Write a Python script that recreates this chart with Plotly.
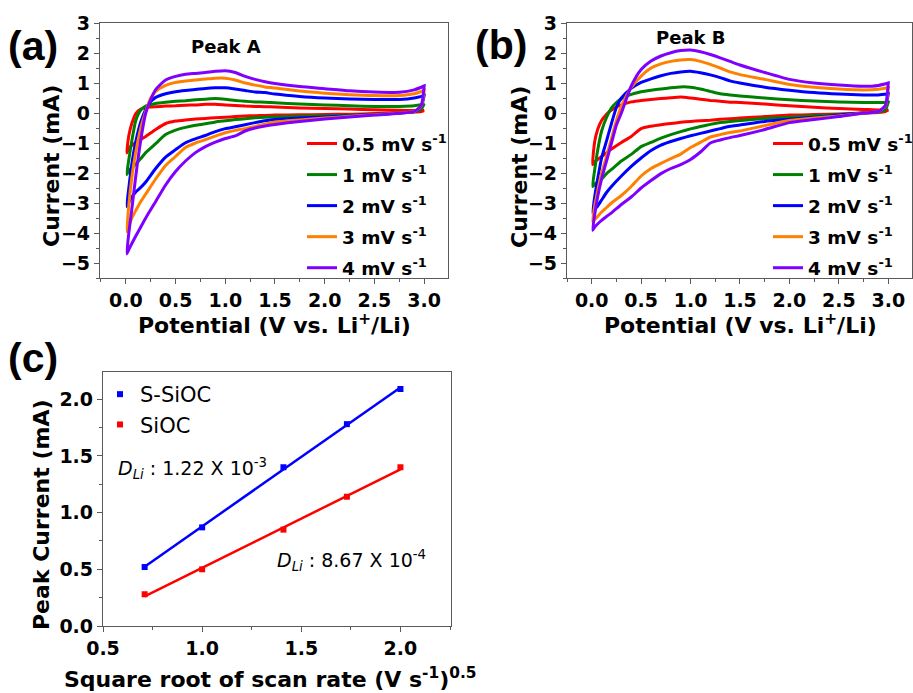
import plotly.graph_objects as go
import numpy as np

# ---------------- data ----------------
# potential grids (V vs Li+/Li): anodic (forward) and cathodic (reverse) sweeps
V_up = [0.01, 0.03, 0.06, 0.1, 0.15, 0.2, 0.25, 0.3, 0.4, 0.5, 0.6, 0.7, 0.8, 0.9, 1.0,
        1.1, 1.2, 1.3, 1.4, 1.5, 1.75, 2.0, 2.25, 2.5, 2.75, 2.9, 3.0]
V_dn = [3.0, 2.97, 2.9, 2.75, 2.5, 2.25, 2.0, 1.75, 1.5, 1.4, 1.3, 1.2, 1.1, 1.0, 0.9,
        0.8, 0.7, 0.6, 0.5, 0.4, 0.3, 0.2, 0.15, 0.1, 0.06, 0.03, 0.01]

rate_labels = ["0.5 mV s<sup>-1</sup>", "1 mV s<sup>-1</sup>", "2 mV s<sup>-1</sup>",
               "3 mV s<sup>-1</sup>", "4 mV s<sup>-1</sup>"]

# Panel (a)  - Peak A  (current, mA)
a_up_05 = [-1.33, -0.75, -0.35, -0.02, 0.13, 0.18, 0.2, 0.21, 0.23, 0.24, 0.26, 0.27, 0.29, 0.29, 0.27,
           0.25, 0.23, 0.22, 0.21, 0.2, 0.17, 0.15, 0.13, 0.11, 0.09, 0.08, 0.08]
a_dn_05 = [0.08, 0.05, 0.03, 0.01, -0.02, -0.04, -0.05, -0.06, -0.07, -0.08, -0.09, -0.1, -0.12, -0.14, -0.16,
           -0.18, -0.2, -0.23, -0.27, -0.35, -0.55, -0.78, -0.88, -0.98, -1.08, -1.2, -1.33]
a_up_1 = [-2.05, -1.55, -0.93, -0.25, 0.1, 0.23, 0.28, 0.32, 0.36, 0.39, 0.41, 0.44, 0.46, 0.48, 0.46,
          0.42, 0.39, 0.37, 0.36, 0.34, 0.3, 0.27, 0.24, 0.22, 0.22, 0.24, 0.3]
a_dn_1 = [0.3, 0.12, 0.04, 0.0, -0.04, -0.07, -0.09, -0.11, -0.13, -0.14, -0.16, -0.19, -0.22, -0.26, -0.3,
          -0.36, -0.41, -0.48, -0.57, -0.72, -1.02, -1.32, -1.52, -1.7, -1.82, -1.93, -2.05]
a_up_2 = [-3.12, -2.5, -1.7, -0.95, -0.3, 0.12, 0.38, 0.52, 0.64, 0.71, 0.75, 0.78, 0.82, 0.84, 0.84,
          0.8, 0.75, 0.7, 0.68, 0.63, 0.55, 0.5, 0.47, 0.45, 0.45, 0.5, 0.58]
a_dn_2 = [0.58, 0.2, 0.05, 0.0, -0.05, -0.09, -0.13, -0.17, -0.22, -0.26, -0.32, -0.39, -0.46, -0.52, -0.62,
          -0.75, -0.86, -0.99, -1.22, -1.47, -1.85, -2.3, -2.48, -2.63, -2.8, -2.98, -3.12]
a_up_3 = [-3.96, -3.06, -2.15, -1.3, -0.5, 0.05, 0.5, 0.72, 0.92, 1.02, 1.07, 1.1, 1.13, 1.16, 1.16,
          1.1, 1.0, 0.93, 0.87, 0.83, 0.73, 0.66, 0.61, 0.58, 0.58, 0.64, 0.75]
a_dn_3 = [0.75, 0.22, 0.05, 0.0, -0.06, -0.11, -0.17, -0.23, -0.3, -0.37, -0.45, -0.52, -0.58, -0.66, -0.77,
          -0.89, -1.0, -1.15, -1.45, -1.75, -2.2, -2.7, -2.95, -3.25, -3.5, -3.75, -3.96]
a_up_4 = [-4.69, -4.0, -3.2, -2.1, -0.9, 0.0, 0.45, 0.78, 1.1, 1.22, 1.29, 1.32, 1.35, 1.39, 1.41,
          1.35, 1.22, 1.12, 1.04, 0.98, 0.88, 0.81, 0.74, 0.7, 0.69, 0.77, 0.9]
a_dn_4 = [0.9, 0.25, 0.05, -0.01, -0.07, -0.13, -0.2, -0.28, -0.38, -0.43, -0.5, -0.6, -0.76, -0.85, -0.97,
          -1.12, -1.32, -1.6, -1.95, -2.4, -2.95, -3.5, -3.8, -4.1, -4.35, -4.55, -4.69]

# Panel (b)  - Peak B
b_up_05 = [-1.72, -0.96, -0.55, -0.25, -0.04, 0.1, 0.2, 0.27, 0.37, 0.42, 0.45, 0.48, 0.51, 0.53, 0.5,
           0.46, 0.42, 0.39, 0.36, 0.35, 0.3, 0.24, 0.19, 0.15, 0.12, 0.1, 0.1]
b_dn_05 = [0.1, 0.05, 0.02, 0.0, -0.03, -0.05, -0.07, -0.12, -0.17, -0.19, -0.21, -0.24, -0.26, -0.28, -0.31,
           -0.35, -0.39, -0.44, -0.52, -0.78, -0.98, -1.2, -1.32, -1.45, -1.55, -1.63, -1.72]
b_up_1 = [-2.45, -1.9, -1.25, -0.6, -0.15, 0.17, 0.35, 0.48, 0.62, 0.71, 0.76, 0.8, 0.84, 0.87, 0.86,
          0.8, 0.72, 0.64, 0.6, 0.57, 0.5, 0.44, 0.4, 0.37, 0.35, 0.35, 0.36]
b_dn_1 = [0.36, 0.1, 0.03, 0.0, -0.05, -0.09, -0.14, -0.18, -0.25, -0.28, -0.32, -0.38, -0.45, -0.53, -0.62,
          -0.72, -0.84, -0.98, -1.12, -1.38, -1.6, -1.88, -2.02, -2.2, -2.3, -2.38, -2.45]
b_up_2 = [-3.35, -2.8, -2.2, -1.5, -0.93, -0.35, 0.19, 0.5, 0.82, 1.02, 1.14, 1.24, 1.32, 1.37, 1.39,
          1.34, 1.27, 1.18, 1.07, 1.0, 0.86, 0.76, 0.68, 0.63, 0.6, 0.6, 0.64]
b_dn_2 = [0.64, 0.2, 0.05, 0.0, -0.07, -0.14, -0.21, -0.28, -0.4, -0.44, -0.52, -0.6, -0.68, -0.76, -0.85,
          -0.95, -1.07, -1.25, -1.5, -1.78, -2.1, -2.45, -2.65, -2.9, -3.1, -3.22, -3.35]
b_up_3 = [-3.63, -3.1, -2.6, -2.0, -1.45, -0.85, -0.25, 0.22, 0.85, 1.23, 1.5, 1.64, 1.72, 1.77, 1.78,
          1.72, 1.62, 1.5, 1.37, 1.28, 1.12, 0.95, 0.86, 0.8, 0.77, 0.79, 0.84]
b_dn_3 = [0.84, 0.22, 0.05, 0.0, -0.1, -0.17, -0.25, -0.42, -0.6, -0.65, -0.72, -0.8, -0.98, -1.15, -1.37,
          -1.52, -1.68, -1.85, -2.1, -2.45, -2.75, -3.0, -3.15, -3.3, -3.45, -3.55, -3.63]
b_up_4 = [-3.91, -3.4, -2.8, -2.2, -1.6, -1.0, -0.4, 0.0, 0.9, 1.45, 1.73, 1.9, 2.01, 2.08, 2.1,
          2.04, 1.95, 1.84, 1.72, 1.6, 1.35, 1.12, 1.0, 0.93, 0.89, 0.92, 1.0]
b_dn_4 = [1.0, 0.25, 0.05, 0.0, -0.12, -0.22, -0.32, -0.55, -0.75, -0.82, -0.9, -1.0, -1.3, -1.55, -1.72,
          -1.85, -2.02, -2.25, -2.5, -2.8, -3.05, -3.33, -3.45, -3.58, -3.7, -3.8, -3.91]

# Panel (c) - peak current vs square root of scan rate
sqrt_rate = [0.71, 1.0, 1.41, 1.73, 2.0]
peak_ssioc = [0.52, 0.87, 1.40, 1.78, 2.09]
peak_sioc = [0.28, 0.50, 0.85, 1.14, 1.40]

# ---------------- styling ----------------
colors = ["#FF0000", "#008000", "#0000FF", "#FF8000", "#8000FF"]
FONT = "DejaVu Sans"
AX_COL = "#5a5a5a"
W, H = 913, 693


def px(x):
    return x / W


def py(y):
    return 1 - y / H


fig = go.Figure()

a_sets = [(a_up_05, a_dn_05), (a_up_1, a_dn_1), (a_up_2, a_dn_2), (a_up_3, a_dn_3), (a_up_4, a_dn_4)]
b_sets = [(b_up_05, b_dn_05), (b_up_1, b_dn_1), (b_up_2, b_dn_2), (b_up_3, b_dn_3), (b_up_4, b_dn_4)]

for i, (up, dn) in enumerate(a_sets):
    fig.add_trace(go.Scatter(x=V_up + V_dn, y=up + dn, mode="lines", name=rate_labels[i],
                             line=dict(color=colors[i], width=3, shape="spline", smoothing=0.6),
                             xaxis="x", yaxis="y", legend="legend", legendgroup="a%d" % i))
for i, (up, dn) in enumerate(b_sets):
    fig.add_trace(go.Scatter(x=V_up + V_dn, y=up + dn, mode="lines", name=rate_labels[i],
                             line=dict(color=colors[i], width=3, shape="spline", smoothing=0.6),
                             xaxis="x2", yaxis="y2", legend="legend2", legendgroup="b%d" % i))

# linear fits for panel (c)
xs = np.array(sqrt_rate)
for vals, col, nm in [(peak_ssioc, "#0000FF", "S-SiOC"), (peak_sioc, "#FF0000", "SiOC")]:
    k, b0 = np.polyfit(xs, np.array(vals), 1)
    xf = [xs[0], xs[-1]]
    fig.add_trace(go.Scatter(x=xf, y=[k * v + b0 for v in xf], mode="lines",
                             line=dict(color=col, width=2.5), showlegend=False,
                             xaxis="x3", yaxis="y3"))
for vals, col, nm in [(peak_ssioc, "#0000FF", "S-SiOC"), (peak_sioc, "#FF0000", "SiOC")]:
    fig.add_trace(go.Scatter(x=sqrt_rate, y=vals, mode="markers", name=nm,
                             marker=dict(color=col, size=6, symbol="square"),
                             xaxis="x3", yaxis="y3", legend="legend3", legendgroup="c" + nm))

tickfont = dict(family=FONT, size=19, color="black", weight="bold")


def axis(domain, rng, dtick, mdtick, anchor):
    return dict(domain=domain, range=rng, dtick=dtick, tick0=0, anchor=anchor,
                showline=True, mirror=True, linecolor=AX_COL, linewidth=1.3,
                ticks="outside", ticklen=5, tickwidth=1.3, tickcolor=AX_COL,
                minor=dict(ticks="outside", ticklen=3, tickwidth=1.2, tickcolor=AX_COL, dtick=mdtick),
                showgrid=False, zeroline=False, tickfont=tickfont)


xa = axis([px(100), px(448)], [-0.26, 3.24], 0.5, 0.25, "y")
ya = axis([py(278), py(23)], [-5.5, 3], 1, 0.5, "x")
xb = axis([px(567), px(912)], [-0.25, 3.24], 0.5, 0.25, "y2")
yb = axis([py(278), py(23)], [-5.5, 3], 1, 0.5, "x2")
xc = axis([px(103), px(451)], [0.5, 2.255], 0.5, 0.25, "y3")
yc = axis([py(626), py(372)], [0, 2.24], 0.5, 0.25, "x3")
xa["tickformat"] = ".1f"
xb["tickformat"] = ".1f"
xc["tickformat"] = ".1f"
yc["tickformat"] = ".1f"

leg_font = dict(family=FONT, size=18.5, color="black", weight="bold")

fig.update_layout(
    width=W, height=H,
    margin=dict(l=0, r=0, t=0, b=0, autoexpand=False),
    paper_bgcolor="white", plot_bgcolor="white",
    xaxis=xa, yaxis=ya, xaxis2=xb, yaxis2=yb, xaxis3=xc, yaxis3=yc,
    legend=dict(x=px(302), y=py(125), xanchor="left", yanchor="top", font=leg_font,
                bgcolor="rgba(0,0,0,0)", tracegroupgap=4, traceorder="grouped"),
    legend2=dict(x=px(768), y=py(125), xanchor="left", yanchor="top", font=leg_font,
                 bgcolor="rgba(0,0,0,0)", tracegroupgap=4, traceorder="grouped"),
    legend3=dict(x=px(100), y=py(374), xanchor="left", yanchor="top",
                 font=dict(family=FONT, size=21, color="black"),
                 bgcolor="rgba(0,0,0,0)", tracegroupgap=0, traceorder="grouped"),
    showlegend=True,
)

title_font = dict(family=FONT, size=22, color="black", weight="bold")


def ann(text, x, y, font, angle=0, xanchor="center"):
    fig.add_annotation(text=text, x=px(x), y=py(y), xref="paper", yref="paper",
                       showarrow=False, font=font, textangle=angle,
                       xanchor=xanchor, yanchor="middle")


label_font = dict(family="Liberation Sans", size=41, color="black", weight="bold")
ann("(a)", 33, 46, label_font)
ann("(b)", 501, 45, label_font)
ann("(c)", 33, 358, label_font)

peak_font = dict(family=FONT, size=18, color="black", weight="bold")
ann("Peak A", 226, 46, peak_font)
ann("Peak B", 691, 37, peak_font)

ann("Current (mA)", 52, 166, title_font, angle=-90)
ann("Current (mA)", 519, 167, title_font, angle=-90)
ann("Potential (V vs. Li<sup>+</sup>/Li)", 274, 324, title_font)
ann("Potential (V vs. Li<sup>+</sup>/Li)", 740, 324, title_font)
ann("Peak Current (mA)", 41, 515, title_font, angle=-90)
ann("Square root of scan rate (V s<sup>-1</sup>)<sup>0.5</sup>", 270, 678, title_font)

d_font = dict(family=FONT, size=19, color="black")
ann("<i>D</i><sub><i>Li</i></sub> : 1.22 X 10<sup>-3</sup>", 116, 468, d_font, xanchor="left")
ann("<i>D</i><sub><i>Li</i></sub> : 8.67 X 10<sup>-4</sup>", 275, 560, d_font, xanchor="left")

fig.write_html("out.html", config={"displayModeBar": False},
               post_script="document.body.style.margin='0px';document.body.style.overflow='hidden';")
